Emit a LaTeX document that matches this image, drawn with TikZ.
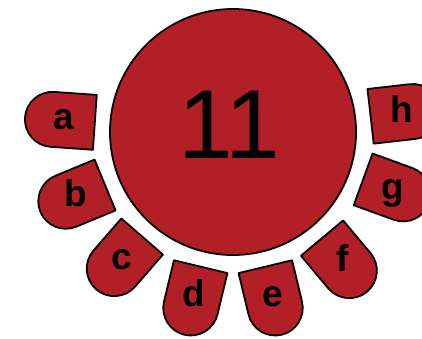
\documentclass[tikz,border=0pt]{standalone}
\usepackage{fontspec}
\setmainfont{Liberation Sans}
\definecolor{petalred}{RGB}{179,31,39}
\tikzset{
  shapefill/.style={fill=petalred, draw=black, line width=1.8pt, line join=round},
  petallabel/.style={font=\bfseries\fontsize{37}{40}\selectfont, text height=19.2pt, text depth=0pt, inner sep=0pt},
  biglabel/.style={font=\fontsize{98}{100}\selectfont, inner sep=0pt}
}
\begin{document}
\begin{tikzpicture}[x=1pt,y=1pt]
\useasboundingbox (0,0) rectangle (422,-338);
\clip (0,0) rectangle (422,-338);
\coordinate (C) at (233,-132);
\draw[shapefill] (C) circle (123);
\node[biglabel] (num) at (229.1,-124.3) {1\kern-7.5pt 1};
\foreach \ang/\lab in {176/a,202.5/b,229/c,256.5/d,283.5/e,310/f,340/g,6.5/h}{
  \begin{scope}[shift={(C)}, rotate=\ang]
    \draw[shapefill] (138.5,-27.5) -- (181,-27.5) arc[start angle=-90, end angle=90, radius=27.5] -- (138.5,27.5) -- cycle;
    \node[petallabel] (p\lab) at (170,0) {\lab};
  \end{scope}
}
\end{tikzpicture}
\end{document}
